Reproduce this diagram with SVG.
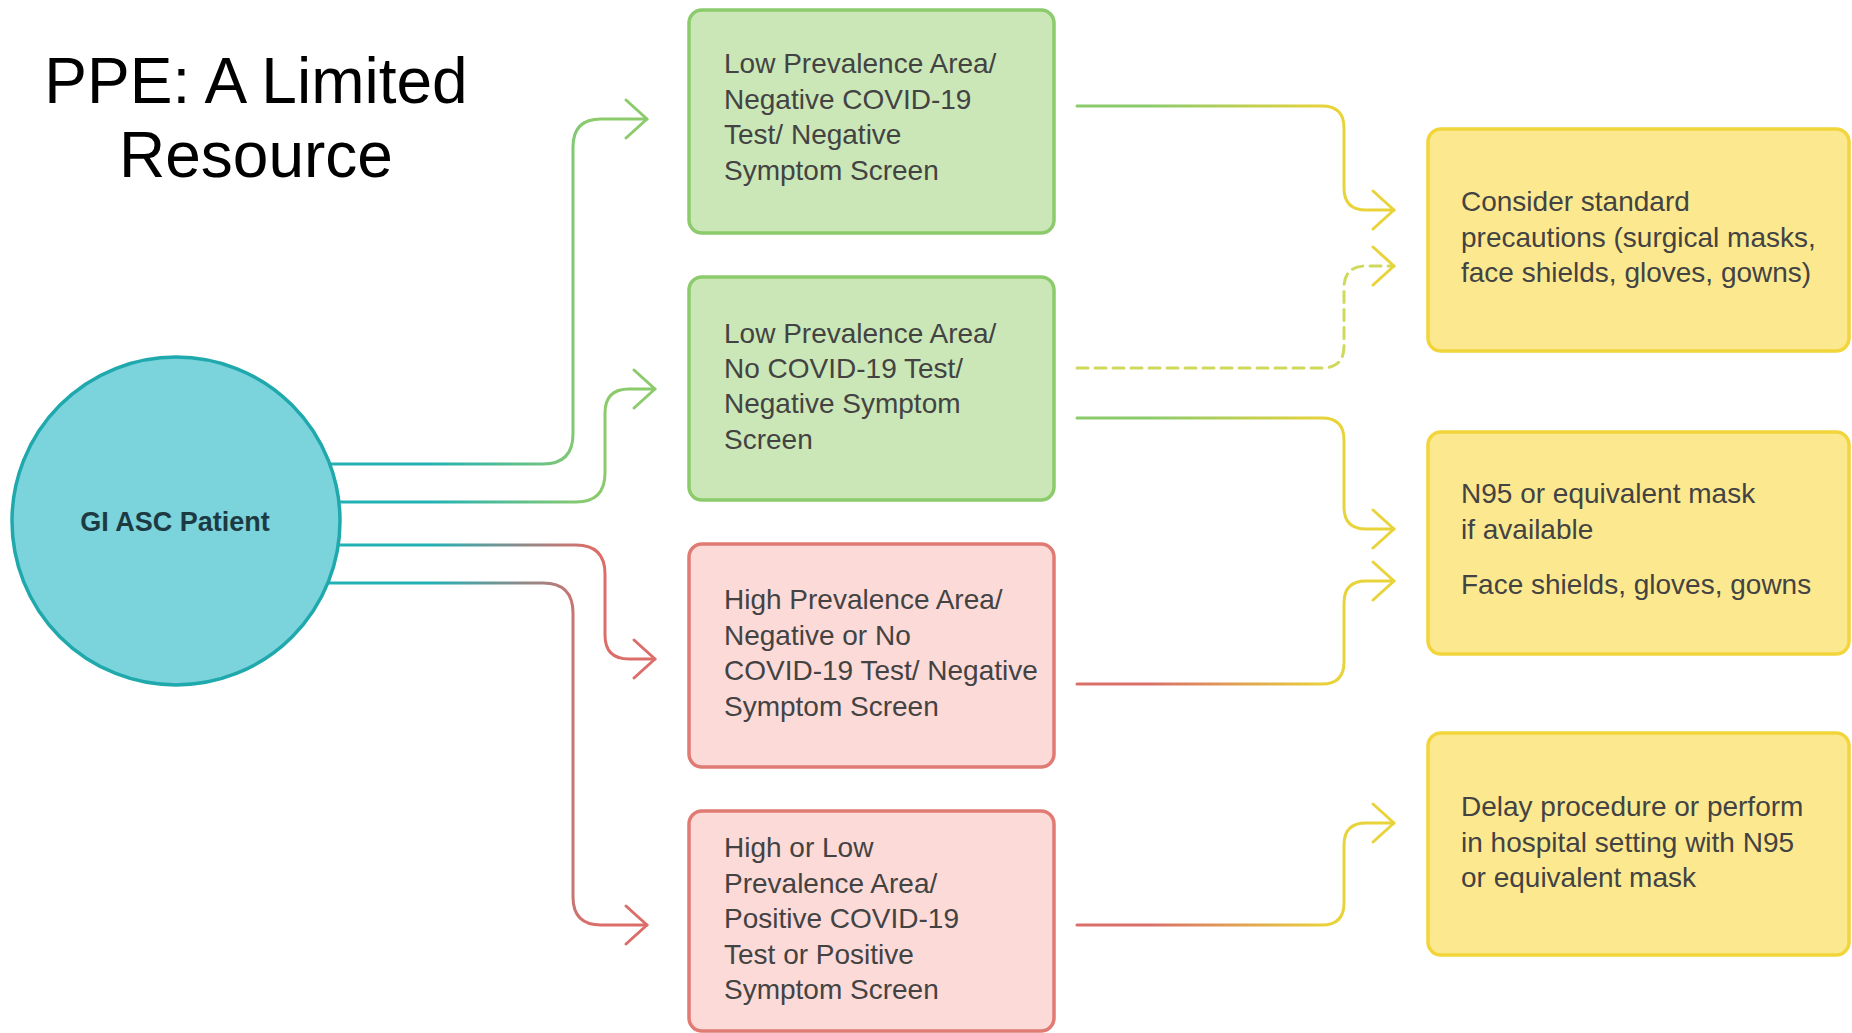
<svg xmlns="http://www.w3.org/2000/svg" width="1852" height="1033" viewBox="0 0 1852 1033">
<style>
.title{font-family:"Liberation Sans",Arial,sans-serif;font-size:64px;fill:#000;text-anchor:middle}
.lbl{font-family:"Liberation Sans",Arial,sans-serif;font-size:28px;fill:#434343}
.pat{font-family:"Liberation Sans",Arial,sans-serif;font-size:27px;font-weight:bold;fill:#1d3a42;text-anchor:middle}
.gbox{fill:#cbe7b7;stroke:#8bcb6b;stroke-width:3.5}
.rbox{fill:#fcdad7;stroke:#e07b74;stroke-width:3.5}
.ybox{fill:#fce98f;stroke:#f1d53a;stroke-width:3.5}
.c{fill:none;stroke-width:3;stroke-linecap:round;stroke-linejoin:round}
</style>
<defs>
<linearGradient id="tg" gradientUnits="userSpaceOnUse" x1="430" y1="0" x2="590" y2="0"><stop offset="0" stop-color="#22b1b4"/><stop offset="1" stop-color="#8ccb6c"/></linearGradient>
<linearGradient id="tr" gradientUnits="userSpaceOnUse" x1="430" y1="0" x2="590" y2="0"><stop offset="0" stop-color="#22b1b4"/><stop offset="1" stop-color="#dc6e6a"/></linearGradient>
<linearGradient id="gy" gradientUnits="userSpaceOnUse" x1="1150" y1="0" x2="1330" y2="0"><stop offset="0" stop-color="#8ccb6c"/><stop offset="1" stop-color="#e9d33a"/></linearGradient>
<linearGradient id="ry" gradientUnits="userSpaceOnUse" x1="1150" y1="0" x2="1330" y2="0"><stop offset="0" stop-color="#d9706a"/><stop offset="1" stop-color="#e9d33a"/></linearGradient>
<marker id="ag" markerUnits="userSpaceOnUse" markerWidth="30" markerHeight="44" refX="26" refY="22" orient="auto" viewBox="0 0 30 44"><path d="M5,3 L26,22 L5,41" fill="none" stroke="#8ccb6c" stroke-width="3" stroke-linecap="round" stroke-linejoin="round"/></marker>
<marker id="ar" markerUnits="userSpaceOnUse" markerWidth="30" markerHeight="44" refX="26" refY="22" orient="auto" viewBox="0 0 30 44"><path d="M5,3 L26,22 L5,41" fill="none" stroke="#dc6e6a" stroke-width="3" stroke-linecap="round" stroke-linejoin="round"/></marker>
<marker id="ay" markerUnits="userSpaceOnUse" markerWidth="30" markerHeight="44" refX="26" refY="22" orient="auto" viewBox="0 0 30 44"><path d="M5,3 L26,22 L5,41" fill="none" stroke="#e9d33a" stroke-width="3" stroke-linecap="round" stroke-linejoin="round"/></marker>
</defs>
<rect width="1852" height="1033" fill="#fff"/>
<g id="title">
<text class="title" x="256" y="103">PPE: A Limited</text>
<text class="title" x="256" y="177">Resource</text>
</g>
<g id="connectors">
<path class="c" stroke="url(#tg)" marker-end="url(#ag)" d="M320,464 H543 Q573,464 573,434 V147 Q573,119 601,119 H647"/>
<path class="c" stroke="url(#tg)" marker-end="url(#ag)" d="M320,502 H576 Q605,502 605,473 V413 Q605,389 629,389 H655"/>
<path class="c" stroke="url(#tr)" marker-end="url(#ar)" d="M320,545 H576 Q605,545 605,574 V635 Q605,659 629,659 H655"/>
<path class="c" stroke="url(#tr)" marker-end="url(#ar)" d="M320,583 H543 Q573,583 573,613 V897 Q573,925 601,925 H647"/>
<path class="c" stroke="url(#gy)" marker-end="url(#ay)" d="M1077,106 H1322 Q1344,106 1344,128 V188 Q1344,210 1366,210 H1394"/>
<path class="c" stroke="#cfd95c" stroke-dasharray="11 7" stroke-linecap="butt" marker-end="url(#ay)" d="M1077,368 H1322 Q1344,368 1344,346 V288 Q1344,266 1366,266 H1394"/>
<path class="c" stroke="url(#gy)" marker-end="url(#ay)" d="M1077,418 H1322 Q1344,418 1344,440 V507 Q1344,529 1366,529 H1394"/>
<path class="c" stroke="url(#ry)" marker-end="url(#ay)" d="M1077,684 H1322 Q1344,684 1344,662 V603 Q1344,581 1366,581 H1394"/>
<path class="c" stroke="url(#ry)" marker-end="url(#ay)" d="M1077,925 H1322 Q1344,925 1344,903 V845 Q1344,823 1366,823 H1394"/>
</g>
<g id="patient">
<circle cx="176" cy="521" r="164" fill="#7bd3dc" stroke="#1fa9ad" stroke-width="3.5"/>
<text class="pat" x="175" y="531">GI ASC Patient</text>
</g>
<g id="box-low-neg">
<rect class="gbox" x="689" y="10" width="365" height="223" rx="13"/>
<text class="lbl"><tspan x="724" y="73">Low Prevalence Area/</tspan><tspan x="724" y="109">Negative COVID-19</tspan><tspan x="724" y="144">Test/ Negative</tspan><tspan x="724" y="180">Symptom Screen</tspan></text>
</g>
<g id="box-low-none">
<rect class="gbox" x="689" y="277" width="365" height="223" rx="13"/>
<text class="lbl"><tspan x="724" y="343">Low Prevalence Area/</tspan><tspan x="724" y="378">No COVID-19 Test/</tspan><tspan x="724" y="413">Negative Symptom</tspan><tspan x="724" y="449">Screen</tspan></text>
</g>
<g id="box-high">
<rect class="rbox" x="689" y="544" width="365" height="223" rx="13"/>
<text class="lbl"><tspan x="724" y="609">High Prevalence Area/</tspan><tspan x="724" y="645">Negative or No</tspan><tspan x="724" y="680">COVID-19 Test/ Negative</tspan><tspan x="724" y="716">Symptom Screen</tspan></text>
</g>
<g id="box-positive">
<rect class="rbox" x="689" y="811" width="365" height="220" rx="13"/>
<text class="lbl"><tspan x="724" y="857">High or Low</tspan><tspan x="724" y="893">Prevalence Area/</tspan><tspan x="724" y="928">Positive COVID-19</tspan><tspan x="724" y="964">Test or Positive</tspan><tspan x="724" y="999">Symptom Screen</tspan></text>
</g>
<g id="out-standard">
<rect class="ybox" x="1428" y="129" width="421" height="222" rx="13"/>
<text class="lbl"><tspan x="1461" y="211">Consider standard</tspan><tspan x="1461" y="247">precautions (surgical masks,</tspan><tspan x="1461" y="282">face shields, gloves, gowns)</tspan></text>
</g>
<g id="out-n95">
<rect class="ybox" x="1428" y="432" width="421" height="222" rx="13"/>
<text class="lbl"><tspan x="1461" y="503">N95 or equivalent mask</tspan><tspan x="1461" y="539">if available</tspan><tspan x="1461" y="594">Face shields, gloves, gowns</tspan></text>
</g>
<g id="out-delay">
<rect class="ybox" x="1428" y="733" width="421" height="222" rx="13"/>
<text class="lbl"><tspan x="1461" y="816">Delay procedure or perform</tspan><tspan x="1461" y="852">in hospital setting with N95</tspan><tspan x="1461" y="887">or equivalent mask</tspan></text>
</g>
</svg>
